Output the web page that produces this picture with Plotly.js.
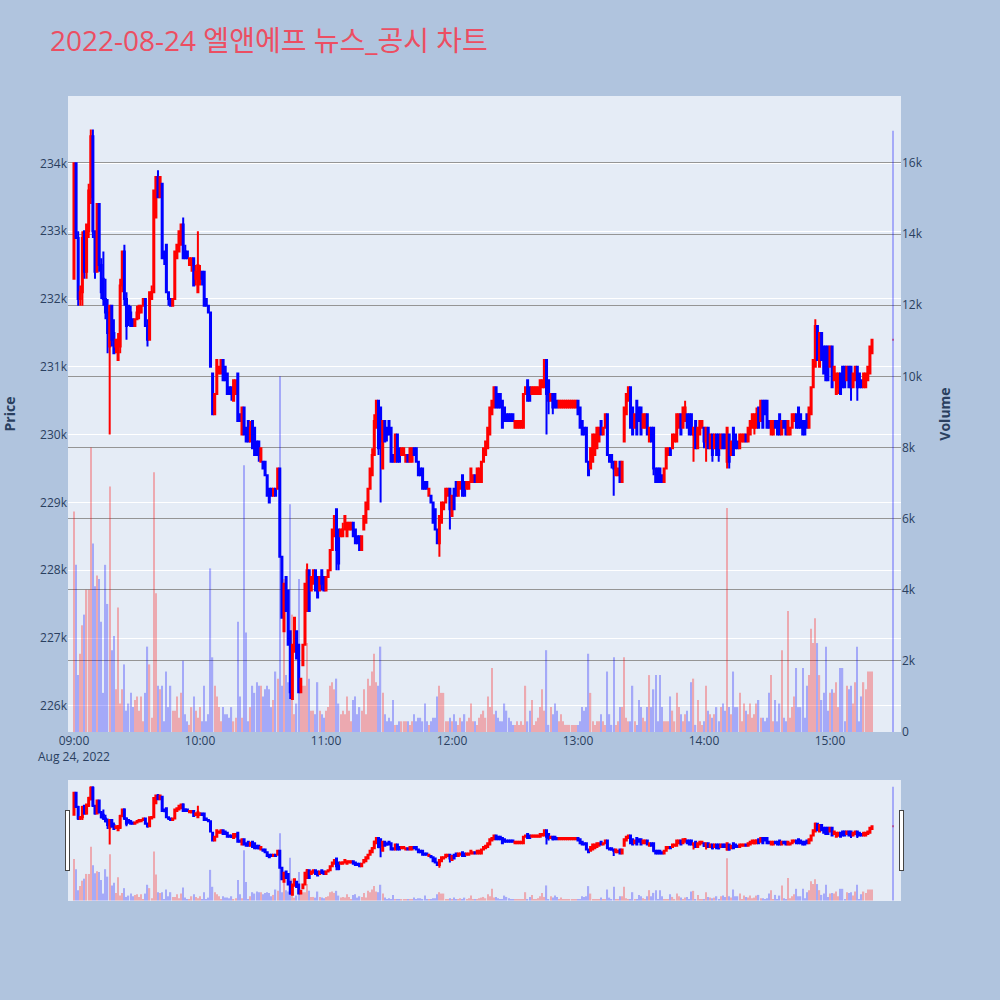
<!DOCTYPE html>
<html>
<head>
<meta charset="utf-8">
<script src="https://cdn.plot.ly/plotly-3.0.1.min.js"></script>
<style>html,body{margin:0;padding:0;background:#B0C4DE;}</style>
</head>
<body>
<div id="chart" style="width:1000px;height:1000px;"></div>
<script>
const chartTitle = '2022-08-24 엘앤에프 뉴스_공시 차트';
const tradeDate = '2022-08-24';
const sessionStartHour = 9;
const closingAuctionTime = '15:30';

const open = [
232300,234000,232900,232000,232100,233000,232400,233000,233500,234400,
233000,232400,233400,232500,232300,232000,231800,231300,231900,231500,
231300,231100,231300,232200,232700,232000,231900,231800,231700,231600,
231700,231800,231800,231900,232000,231600,231400,232000,232100,233200,
233800,233500,233700,232700,232800,232100,232000,231900,232000,232600,
232700,232800,233100,232700,232700,232500,232500,232600,232300,232100,
232300,232400,232400,232000,231900,231800,230900,230300,230600,230900,
230900,231100,231000,230900,230700,230700,230500,230600,230900,230300,
230000,230400,230100,230200,229900,230200,230100,229900,229900,229600,
229600,229600,229400,229200,229200,229100,229200,229200,229500,228200,
227100,227900,227700,227100,226100,226800,227100,226900,226200,226600,
226900,227400,228000,227700,227800,228000,227900,227700,228000,227900,
227700,227900,228000,228300,228500,228900,228600,228500,228500,228600,
228500,228600,228600,228700,228600,228500,228500,228300,228600,228700,
228900,229200,229400,229700,230100,230500,230400,229500,230200,230100,
230200,230100,229700,229600,230000,229800,229700,229700,229600,229700,
229600,229600,229800,229800,229600,229500,229500,229300,229300,229100,
229100,229000,228900,228600,228400,228700,228900,229000,229100,229200,
228800,229200,229300,229100,229200,229400,229300,229200,229200,229300,
229300,229400,229300,229300,229300,229600,229700,229800,230000,230300,
230400,230700,230600,230600,230500,230400,230300,230300,230300,230300,
230100,230100,230100,230100,230100,230600,230800,230700,230600,230600,
230600,230600,230600,230700,230700,231100,230800,230500,230600,230600,
230500,230400,230400,230400,230400,230400,230400,230400,230400,230400,
230500,230400,230200,230100,230100,229600,229500,229600,229700,229800,
229900,230200,230000,230100,230300,229700,229700,229600,229400,229400,
229600,229300,229900,230300,230500,230700,230400,230100,230500,230400,
230400,230100,230100,230300,229900,230100,230100,229500,229500,229500,
229400,229300,229500,229700,229800,229800,229900,229900,230100,230300,
230100,230200,230300,230300,230300,230000,230200,229800,230000,230100,
230100,229900,230100,229800,230000,229800,230000,230000,229800,230000,
230000,229600,230000,229700,230100,230000,229900,229800,229900,229900,
230000,229900,230000,230100,230100,230100,230400,230200,230500,230500,
230500,230200,230000,230000,230200,230200,230300,230000,230200,230200,
230000,230000,230100,230200,230300,230400,230300,230200,230200,230300,
230100,230300,230700,231000,231600,231000,231500,231300,231300,231300,
231000,231300,230800,230600,230700,230900,231000,231000,230800,231000,
231000,230700,230800,231000,230900,230800,230700,230700,230800,230900,
231200,231400];

const high = [
234000,234000,233000,232200,233000,233000,233100,233700,234500,234500,
233000,233400,233400,232600,232700,232300,232000,231900,231900,231700,
231400,231500,232300,232700,232800,232100,231900,231900,231700,231700,
231900,231900,231900,232000,232000,231700,232100,232200,233600,233800,
233900,233800,233700,232700,232800,232100,232000,232000,232700,232800,
233000,233100,233200,232800,232700,232600,232600,232600,232500,233000,
232500,232400,232400,232000,231900,231800,230900,230600,231100,231000,
231100,231100,231000,230900,230700,230700,230800,230800,230900,230300,
230400,230400,230100,230200,230200,230200,230100,229900,229900,229800,
229600,229600,229400,229200,229200,229200,229200,229500,229500,228200,
227800,227900,227700,227100,226900,227300,227100,226900,226400,226900,
227800,228100,228000,227900,228000,228000,227900,227900,228000,227900,
227900,228000,228300,228600,228800,228900,228600,228600,228700,228800,
228700,228700,228700,228700,228600,228500,228500,228500,228800,229000,
229200,229500,229800,230300,230500,230500,230400,230200,230200,230100,
230200,230100,229700,230000,230000,229800,229800,229800,229700,229700,
229800,229800,229800,229800,229600,229500,229500,229300,229300,229200,
229100,229000,228900,228600,228800,229000,229000,229200,229200,229200,
229100,229200,229300,229300,229300,229400,229300,229300,229300,229500,
229400,229400,229500,229500,229600,229800,229900,230100,230400,230500,
230700,230700,230600,230600,230500,230400,230300,230300,230300,230300,
230200,230200,230200,230200,230600,230700,230800,230700,230700,230700,
230700,230700,230800,230800,231100,231100,230800,230600,230600,230600,
230500,230500,230500,230500,230500,230500,230500,230500,230500,230500,
230500,230400,230200,230100,230100,229600,229800,230000,230000,230100,
230100,230200,230100,230300,230300,229700,229700,229600,229600,229500,
229600,229600,230400,230600,230700,230700,230400,230300,230500,230400,
230400,230300,230300,230300,230100,230100,230100,229500,229500,229500,
229400,229500,229800,229800,229800,230000,230000,230300,230300,230300,
230400,230500,230300,230300,230300,230100,230200,230100,230200,230200,
230100,230100,230100,230000,230000,230000,230000,230000,230000,230000,
230000,230100,230000,229900,230100,230000,229900,230000,230000,230000,
230000,230100,230200,230300,230300,230400,230400,230500,230500,230500,
230500,230200,230200,230200,230200,230200,230300,230200,230200,230200,
230200,230100,230300,230300,230300,230400,230300,230200,230200,230300,
230400,230700,231100,231700,231600,231500,231500,231300,231300,231300,
231300,231300,231000,230900,230900,230900,231000,231000,231000,231000,
231000,230900,231000,231000,230900,230800,230900,230900,231000,231300,
231400,231400];

const low = [
232300,232900,231900,231900,231900,232300,232300,232900,233400,232900,
232300,232400,232400,232000,231900,231700,231200,230000,231300,231200,
231200,231100,231200,232100,231900,231400,231600,231600,231600,231600,
231700,231700,231800,231900,231600,231300,231400,232000,232100,233200,
233500,233500,232600,232500,232100,231900,231900,231900,232000,232600,
232700,232800,232600,232600,232600,232500,232400,232200,232200,232100,
232200,232200,231900,231900,231800,231000,230300,230300,230600,230900,
230900,230800,230800,230600,230600,230500,230500,230600,230200,230200,
230000,230000,229900,229900,229900,229800,229700,229700,229600,229600,
229500,229400,229100,229000,229100,229100,229100,229200,228200,227300,
227100,227400,226900,226100,226100,226800,226700,226200,226200,226600,
226900,227400,227400,227700,227800,227700,227600,227700,227700,227700,
227700,227900,228000,228300,228500,228000,228000,228500,228500,228600,
228500,228600,228600,228500,228400,228400,228300,228300,228600,228700,
228900,229200,229400,229700,230100,229700,229000,229500,229900,229900,
230000,229600,229600,229600,229600,229600,229700,229700,229600,229600,
229600,229600,229700,229600,229400,229400,229200,229200,229200,229100,
229000,228700,228600,228400,228200,228700,228900,229000,229100,228600,
228800,228900,229100,229100,229200,229100,229100,229200,229200,229300,
229300,229300,229300,229300,229300,229600,229700,229800,230000,230300,
230400,230400,230400,230400,230100,230200,230200,230200,230200,230200,
230100,230100,230100,230100,230100,230600,230500,230500,230600,230600,
230600,230600,230600,230700,230700,230000,230300,230500,230300,230400,
230400,230400,230400,230400,230400,230400,230400,230400,230400,230400,
230300,230100,230000,230000,229600,229400,229500,229600,229700,229800,
229900,230000,230000,230100,229700,229600,229500,229100,229400,229400,
229300,229300,229900,230300,230500,230100,230000,230100,230000,230200,
230000,230100,230100,230000,229900,229900,229400,229300,229300,229300,
229300,229300,229500,229700,229700,229800,229900,229900,230100,230000,
230100,230200,230100,230000,230000,229600,229800,229800,230000,230100,
229800,229600,229800,229800,229600,229800,229700,229600,229800,229800,
229800,229500,229500,229700,229700,229800,229800,229800,229900,229900,
229900,229900,230000,230100,230000,230100,230100,230200,230100,230300,
230100,230100,230000,230000,230100,230000,230000,230000,230100,230000,
230000,230000,230100,230200,230100,230100,230100,230000,230000,230100,
230100,230300,230700,231000,231100,231000,231100,230900,230800,230800,
231000,230700,230800,230600,230600,230600,230700,230700,230800,230700,
230500,230700,230800,230500,230700,230700,230700,230700,230800,230900,
231200,231400];

const close = [
234000,232900,232000,232100,232900,232400,233100,233600,234400,233000,
232400,233400,232500,232100,232000,231800,231500,231900,231400,231200,
231400,231400,232200,232700,232000,231600,231700,231600,231600,231700,
231800,231900,231900,232000,231600,231400,232100,232100,233600,233800,
233500,233800,232600,232600,232100,232000,231900,232000,232700,232800,
233000,233100,232600,232600,232600,232600,232600,232200,232400,232500,
232400,232300,231900,231900,231800,231000,230300,230600,231100,231000,
231100,230800,230800,230600,230600,230600,230800,230800,230200,230200,
230400,230000,229900,229900,230100,229800,229700,229700,229700,229800,
229500,229400,229100,229000,229100,229200,229100,229500,228200,227300,
227800,227400,226900,226200,226900,227300,226700,226200,226400,226900,
227800,228000,227400,227900,228000,227700,227600,227900,227800,227700,
227900,228000,228300,228600,228800,228300,228100,228600,228600,228800,
228700,228700,228700,228500,228400,228400,228300,228500,228800,229000,
229200,229500,229700,230200,230500,229800,229900,230200,229900,230000,
230000,229600,229600,230000,229600,229600,229800,229800,229700,229600,
229800,229800,229700,229600,229400,229400,229200,229200,229200,229200,
229000,228700,228600,228400,228800,229000,229000,229200,229200,228900,
229100,228900,229100,229300,229300,229100,229100,229300,229300,229500,
229400,229300,229500,229500,229600,229800,229900,230100,230400,230500,
230700,230400,230400,230400,230100,230200,230200,230200,230200,230200,
230200,230200,230200,230200,230600,230700,230500,230500,230700,230700,
230700,230700,230800,230800,231100,230600,230500,230600,230400,230400,
230400,230500,230500,230500,230500,230500,230500,230500,230500,230500,
230300,230100,230000,230000,229600,229400,229800,230000,230000,230100,
230100,230000,230100,230300,229700,229600,229600,229500,229600,229500,
229300,229600,230400,230600,230700,230100,230000,230300,230000,230200,
230000,230300,230300,230000,230100,229900,229500,229300,229300,229300,
229300,229500,229800,229800,229700,230000,230000,230300,230300,230000,
230400,230400,230100,230000,230000,230100,229800,230100,230200,230200,
229900,230100,229800,230000,229700,230000,229700,229700,230000,229800,
229800,230100,229600,229900,229700,229800,229800,230000,230000,230000,
229900,230100,230200,230300,230300,230300,230100,230500,230100,230300,
230100,230100,230200,230200,230100,230000,230000,230200,230100,230000,
230200,230100,230300,230300,230100,230100,230100,230000,230000,230100,
230400,230700,231100,231600,231100,231500,231100,230900,230800,230800,
231300,230700,231000,230900,230900,230600,230700,230700,231000,230700,
230700,230900,231000,230700,230700,230700,230900,230900,231000,231300,
231400,231400];

const volume = [
6200,4700,1600,2200,3000,3300,4000,4000,8000,5300,
4100,4400,4300,3100,1100,4700,3600,6900,2300,2700,
1200,3500,800,1200,1900,600,800,1100,700,900,
1000,600,1000,300,1100,2400,1900,400,7300,3900,
1300,1200,1300,300,1700,700,1300,600,600,1000,
400,1100,2000,500,300,200,700,1000,600,400,
700,300,1300,300,500,4600,2100,1300,1000,700,
300,700,500,500,400,700,300,400,3100,1000,
400,7500,2800,300,700,1300,1100,1400,1300,1300,
1000,1200,1300,1200,700,900,1700,1500,10000,1300,
4300,1600,1400,6400,3300,500,800,4300,1500,1300,
1300,2500,1500,600,600,500,1400,600,500,400,
600,700,1300,1400,1200,1500,800,500,600,500,
1000,600,300,900,1000,500,700,600,1200,500,
1500,1300,1700,2200,1400,1300,2400,1100,500,300,
400,300,900,200,200,300,300,300,300,300,
200,300,500,300,400,400,300,800,300,200,
300,400,400,1000,1300,1100,1100,300,300,400,
300,500,300,200,400,300,500,300,400,800,
300,300,200,400,500,600,400,1000,700,1800,
500,600,400,300,300,800,600,400,300,200,
200,300,200,300,200,1300,300,600,900,200,
300,400,700,1200,600,2300,200,700,500,800,
600,300,500,300,200,200,200,200,200,200,
200,300,700,600,700,2200,1100,300,200,300,
300,500,300,200,1700,500,200,2100,200,300,
700,700,2100,400,300,300,1300,300,200,900,
700,400,300,700,1600,700,1200,1600,300,1600,
700,300,300,300,1000,600,300,1100,700,500,
300,500,600,300,1400,1500,200,900,300,200,
300,1300,600,500,400,500,700,300,700,800,
600,6300,700,500,1700,700,700,1100,300,800,
600,500,800,400,500,800,900,400,400,300,
400,1100,1600,300,900,300,800,2300,400,300,
3400,400,700,1000,1800,700,700,1800,400,1300,
1600,2900,2500,3200,2500,1600,900,1100,2400,600,
1100,1200,1100,1400,700,1800,1800,300,1300,1200,
1300,800,1400,2400,300,1000,1400,1200,1700,1700,
1700,16900];

// minute timestamps of the session (09:00 onward), plus the closing auction print
const pad = n => String(n).padStart(2, '0');
const times = [];
for (let i = 0; i < open.length - 1; i++) {
  const h = sessionStartHour + Math.floor(i / 60);
  const m = i % 60;
  times.push(`${tradeDate} ${pad(h)}:${pad(m)}`);
}
times.push(`${tradeDate} ${closingAuctionTime}`);

const volColors = close.map((c, i) => (c > open[i] ? 'red' : 'blue'));

const xRange = [`${tradeDate} 08:57:09`, `${tradeDate} 15:33:48`];

const candle = {
  type: 'candlestick',
  x: times, open: open, high: high, low: low, close: close,
  increasing: {line: {color: 'red', width: 2}, fillcolor: 'red'},
  decreasing: {line: {color: 'blue', width: 2}, fillcolor: 'blue'},
  name: 'Price', showlegend: false
};
const bars = {
  type: 'bar', x: times, y: volume, yaxis: 'y2',
  width: 36000,
  marker: {color: volColors, line: {width: 0}},
  opacity: 0.28, name: 'Volume', showlegend: false
};

const layout = {
  width: 1000, height: 1000,
  paper_bgcolor: '#B0C4DE', plot_bgcolor: '#E5ECF6',
  font: {family: '"Open Sans", verdana, arial, sans-serif', size: 12, color: '#2a3f5f'},
  title: {
    text: chartTitle,
    font: {family: '"Open Sans", "Noto Sans CJK KR", sans-serif', size: 28, color: '#EC4E62'},
    x: 0.05, xanchor: 'left', xref: 'container',
    y: 0.959, yanchor: 'middle', yref: 'container'
  },
  margin: {l: 68, r: 99, t: 96, b: 100},
  showlegend: false,
  xaxis: {
    type: 'date', range: xRange, autorange: false,
    showgrid: false, zeroline: false, ticks: '',
    rangeslider: {visible: true, thickness: 0.15, bgcolor: '#E5ECF6', borderwidth: 0,
                  autorange: false, range: xRange}
  },
  yaxis: {
    title: {text: '<b>Price</b>', standoff: 21},
    range: [225615, 234993], autorange: false,
    gridcolor: 'white', zeroline: false, ticks: ''
  },
  yaxis2: {
    title: {text: '<b>Volume</b>', standoff: 18},
    overlaying: 'y', side: 'right',
    range: [0, 17880], autorange: false,
    showgrid: true, gridcolor: '#959595', zeroline: false, ticks: ''
  }
};

Plotly.newPlot('chart', [bars, candle], layout, {displayModeBar: false});
</script>
</body>
</html>
